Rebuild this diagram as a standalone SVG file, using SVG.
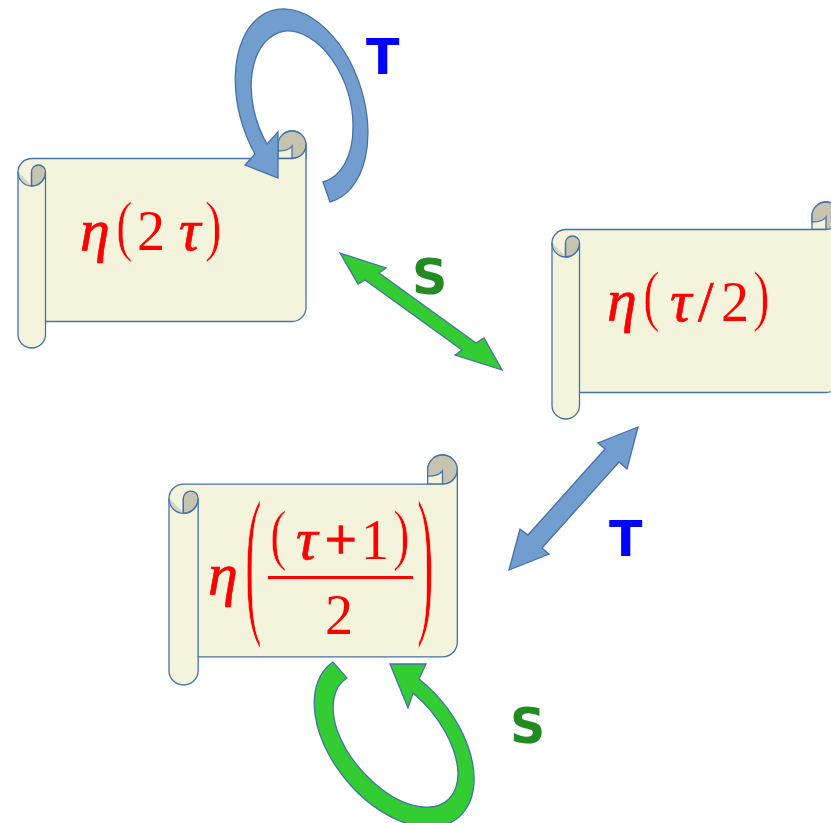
<svg xmlns="http://www.w3.org/2000/svg" width="831" height="823" viewBox="0 0 831 823">
<style>
.s{stroke:#4472a8;stroke-width:1.3;vector-effect:non-scaling-stroke}
.paper{fill:#f4f4dc}
.curl{fill:#c6c4b0}
.wedge{fill:#d6d4c0;stroke:none}
.none{fill:none}
.m{fill:#ff0000;font-family:"Liberation Serif",serif;font-size:56px}
.i{font-style:italic;stroke:#ff0000;stroke-width:.7;font-size:60px}
.p{font-size:50px;stroke:#f4f4dc;stroke-width:.5}
.l{font-family:"DejaVu Sans",sans-serif;font-weight:bold;font-size:49px}
.blue{fill:#729dcf}
.green{fill:#33cc33}
</style>
<defs>
<g id="scroll">
<path class="s paper" d="M260,27.500V14A14,14 0 0 1 288,14V27.500H260Z"/>
<path class="s curl" d="M260,20V14A14,14 0 0 1 288,14A14,13.500 0 0 1 274,27.500V15C272,18 267,20 260,20Z"/>
<path class="s paper" d="M0,41A14,13.500 0 0 1 14,27.500H274A14,13.500 0 0 0 288,14V176.500A14,14 0 0 1 274,190.500H27.500V203.500A13.750,13.500 0 0 1 0,203.500Z"/>
<path class="s curl" d="M13.500,55V41A6.900,6.900 0 0 1 27.500,41A14,14 0 0 1 13.500,55Z"/>
<path class="wedge" d="M0.500,41L13.500,54.500A14,14 0 0 1 0.500,41Z"/>
<path class="s none" d="M0,41A13.750,14 0 0 0 27.500,41V190.500M13.500,55V41"/>
</g>
<g id="scroll-b">
<path class="s paper" d="M244,27.500V14A14,14 0 0 1 272,14V27.500H244Z"/>
<path class="s curl" d="M244,20V14A14,14 0 0 1 272,14A14,13.500 0 0 1 258,27.500V15C256,18 251,20 244,20Z"/>
<path class="s paper" d="M0,41A14,13.500 0 0 1 14,27.500H258A14,13.500 0 0 0 272,14V176.500A14,14 0 0 1 258,190.500H27.500V203.500A13.750,13.500 0 0 1 0,203.500Z"/>
<path class="s curl" d="M13.500,55V41A6.900,6.900 0 0 1 27.500,41A14,14 0 0 1 13.500,55Z"/>
<path class="wedge" d="M0.500,41L13.500,54.500A14,14 0 0 1 0.500,41Z"/>
<path class="s none" d="M0,41A13.750,14 0 0 0 27.500,41V190.500M13.500,55V41"/>
</g>
</defs>
<g id="scroll-2tau">
<use href="#scroll" transform="translate(18,131)"/>
<text class="m i" x="80" y="250">η</text>
<text class="m p" transform="translate(116,248) scale(1,1.37)">(</text>
<text class="m" x="137" y="250">2</text>
<text class="m i" x="179" y="250">τ</text>
<text class="m p" transform="translate(205,248) scale(1,1.37)">)</text>
</g>
<g id="scroll-tau2">
<use href="#scroll" transform="translate(552,202)"/>
<text class="m i" x="607" y="320">η</text>
<text class="m p" transform="translate(643,318) scale(1,1.37)">(</text>
<text class="m i" x="670" y="321">τ</text>
<text class="m" x="698" y="321" stroke="#ff0000" stroke-width=".7">/</text>
<text class="m" x="721" y="321">2</text>
<text class="m p" transform="translate(753,318) scale(1,1.37)">)</text>
</g>
<g id="scroll-tau1">
<use href="#scroll-b" transform="translate(169,455) scale(1.06)"/>
<text class="m i" x="208" y="594">η</text>
<text class="m p" transform="translate(245,614) scale(1,3.3)">(</text>
<text class="m p" transform="translate(270,557) scale(1,1.37)">(</text>
<text class="m i" x="296" y="559">τ</text>
<text class="m" x="325" y="559" stroke="#ff0000" stroke-width="1.5">+</text>
<text class="m" x="361" y="559">1</text>
<text class="m p" transform="translate(393,557) scale(1,1.37)">)</text>
<rect x="268" y="576" width="145" height="3" fill="#ff0000"/>
<text class="m" x="325" y="634">2</text>
<text class="m p" transform="translate(417,614) scale(1,3.3)">)</text>
</g>
<g id="connectors">
<path class="s blue" d="M330,202A100,62 72.500 1 0 255,154L245,165L278,178V132L267,144A77,49 72.500 0 1 285,31A77,49 72.500 0 1 353,127A77,49 72.500 0 1 323,182Z"/>
<path class="s green" d="M340,253L386,268L379,273L476,343L484,338L502,370L455,355L462,350L365,280L358,284Z"/>
<path class="s blue" d="M638,427L598,443L605,449L528,535L520,529L509,570L549,554L542,548L619,462L627,469Z"/>
<path class="s green" d="M333,662A100,62 50 1 0 419,679L426,664H390L408,708L413,693A81,46 50 0 1 458,773A81,46 50 0 1 423,807A81,46 50 0 1 337,730A81,46 50 0 1 347,678Z"/>
</g>
<g id="labels">
<text class="l" x="366" y="74" fill="#0000ff">T</text>
<text class="l" x="412" y="294" fill="#228b22">S</text>
<text class="l" x="609" y="556" fill="#0000ff">T</text>
<text class="l" x="510" y="743" fill="#228b22">S</text>
</g>
</svg>
